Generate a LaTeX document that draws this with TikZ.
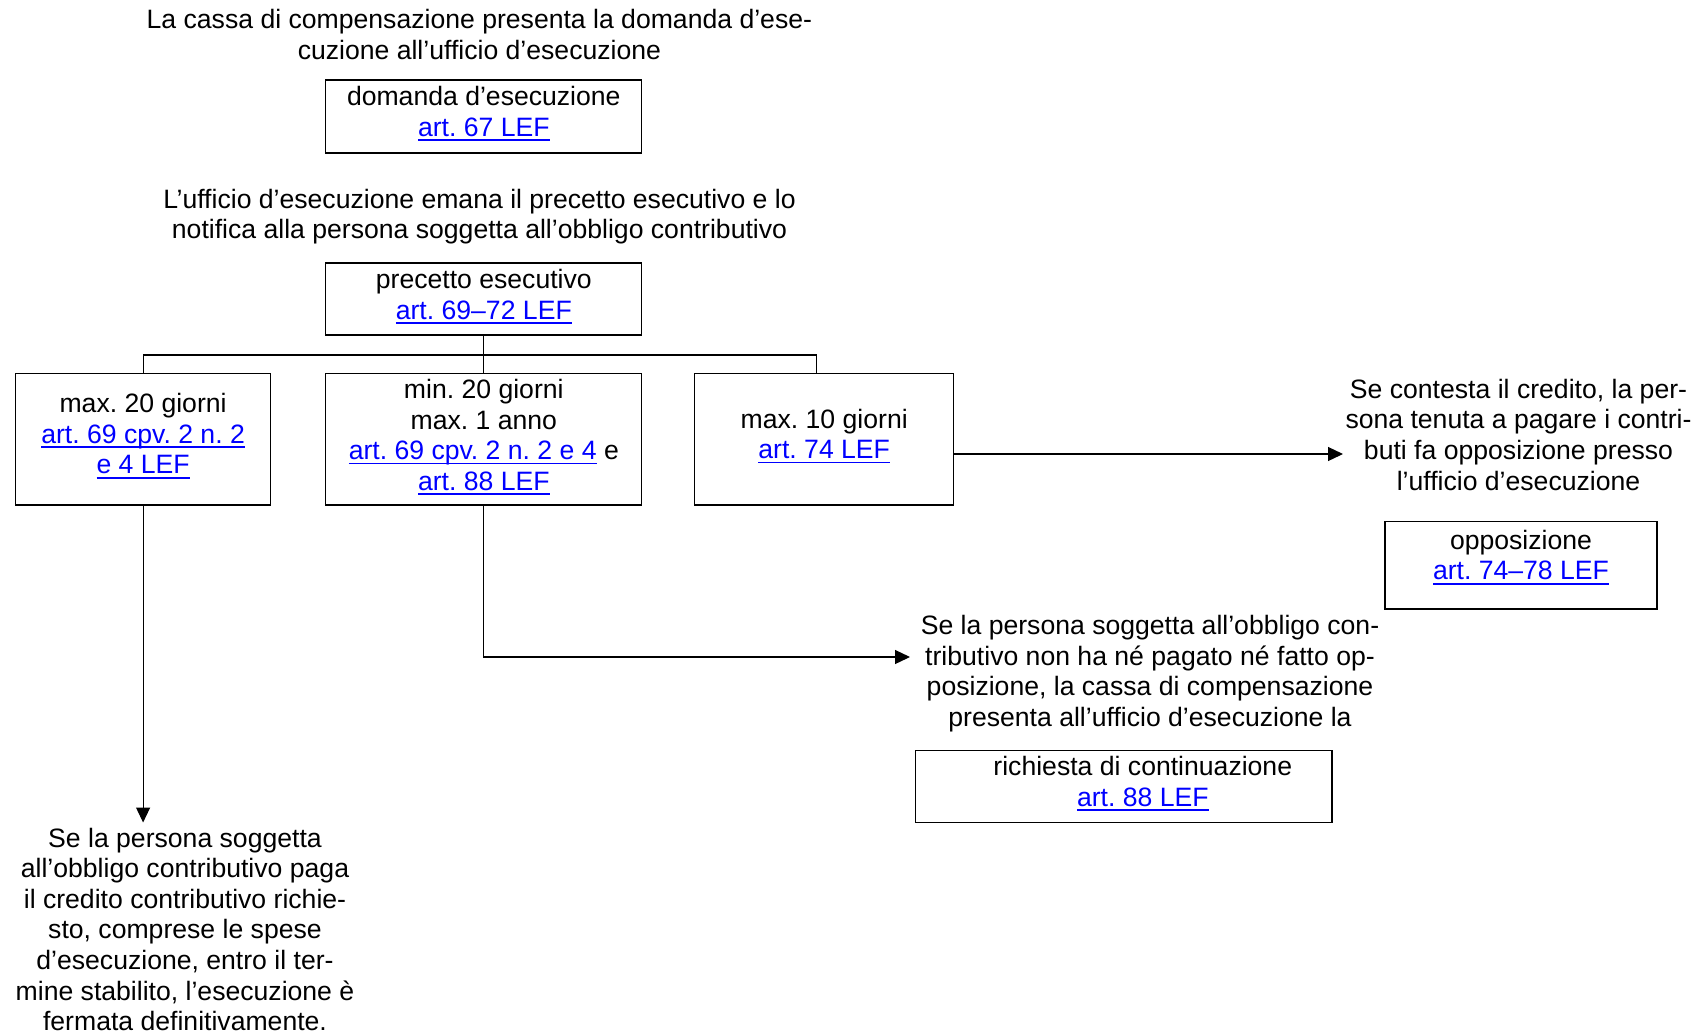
\documentclass[tikz,border=0pt]{standalone}
\usepackage{fontspec}
\setmainfont[Ligatures={NoCommon}]{Liberation Sans}
\usetikzlibrary{arrows.meta}
\definecolor{linkblue}{RGB}{0,0,255}
\newsavebox{\lkbox}
\newcommand\lk[1]{{\color{linkblue}\sbox{\lkbox}{#1}\rlap{\rule[-4.8pt]{\wd\lkbox}{1.8pt}}\usebox{\lkbox}}}
\newcommand\xdep[1]{\rule[-#1]{0pt}{#1}}
\frenchspacing
\tikzset{
  basetxt/.style={font=\fontsize{26.6}{30.6}\selectfont\frenchspacing, align=center, inner sep=0pt},
  box/.style={basetxt, draw, line width=1.2pt},
  freetxt/.style={basetxt},
  conn/.style={line width=1.2pt},
  arr/.style={conn, -{Triangle[length=15pt,width=14pt]}},
}
\begin{document}
\begin{tikzpicture}[x=1pt,y=-1pt]
\useasboundingbox (0,0) rectangle (1697,1034);
\fill[white] (0,0) rectangle (1697,1034);

% free texts
\node[freetxt] (t1) at (479.4,38) {\strut La cassa di compensazione presenta la domanda d’ese-\\\strut cuzione all’ufficio d’esecuzione};
\node[freetxt] (t2) at (479.5,217.2) {\strut L’ufficio d’esecuzione emana il precetto esecutivo e lo\\\strut notifica alla persona soggetta all’obbligo contributivo};
\node[freetxt] (t3) at (1518.5,438) {\strut Se contesta il credito, la per-\\\strut sona tenuta a pagare i contri-\\\strut buti fa opposizione presso\\\strut l’ufficio d’esecuzione};
\node[freetxt] (t4) at (1150,674.3) {\strut Se la persona soggetta all’obbligo con-\\\strut tributivo non ha né pagato né fatto op-\\\strut posizione, la cassa di compensazione\\\strut presenta all’ufficio d’esecuzione la};
\node[freetxt] (t5) at (185,932.7) {\strut Se la persona soggetta\\\strut all’obbligo contributivo paga\\\strut il credito contributivo richie-\\\strut sto, comprese le spese\\\strut d’esecuzione, entro il ter-\\\strut mine stabilito, l’esecuzione è\\\strut fermata definitivamente.};

% boxes
\node[box, minimum width=316pt, minimum height=73pt] (bDom) at (483.8,116.5)
  {\strut domanda d’esecuzione\\\strut\lk{art. 67 LEF}\xdep{12.8pt}};
\node[box, minimum width=316pt, minimum height=72pt] (bPre) at (483.8,299)
  {\strut precetto esecutivo\\\strut\lk{art. 69–72 LEF}\xdep{11.2pt}};
\node[box, minimum width=255.3pt, minimum height=131.6pt] (bLeft) at (143.1,439.2)
  {\strut max. 20 giorni\\\strut\lk{art. 69 cpv. 2 n. 2}\\\strut\lk{e 4 LEF}\xdep{13.2pt}};
\node[box, minimum width=316pt, minimum height=131.6pt] (bMid) at (483.8,439.2)
  {\strut min. 20 giorni\\\strut max. 1 anno\\\strut\lk{art. 69 cpv. 2 n. 2 e 4} e\\\strut\lk{art. 88 LEF}\xdep{11.2pt}};
\node[box, minimum width=258.7pt, minimum height=131.6pt] (bRight) at (824.2,439.2)
  {\strut max. 10 giorni\\\strut\lk{art. 74 LEF}\xdep{13.2pt}};
\node[box, minimum width=272pt, minimum height=87.3pt] (bOpp) at (1521,565.3)
  {\strut opposizione\\\strut\lk{art. 74–78 LEF}\xdep{23.2pt}};
\node[box, minimum width=416.4pt, minimum height=72pt] (bRic) at (1123.8,786.3)
  {\hspace*{38pt}\strut richiesta di continuazione\\\hspace*{38pt}\strut\lk{art. 88 LEF}\xdep{12.4pt}};

% connectors
\coordinate (jn) at (483.8,355);
\coordinate (aT3) at (1343,454);
\coordinate (aT4) at (910,657);
\coordinate (aT5) at (143.1,822.5);

\draw[conn] (bPre.south) -- (jn);
\draw[conn] (bLeft.north) |- (jn) -- (bMid.north);
\draw[conn] (jn) -| ([xshift=-8pt]bRight.north);
\draw[arr] (bRight.east |- aT3) -- (aT3);
\draw[arr] (bMid.south) |- (aT4);
\draw[arr] (bLeft.south) -- (aT5);
\end{tikzpicture}
\end{document}
